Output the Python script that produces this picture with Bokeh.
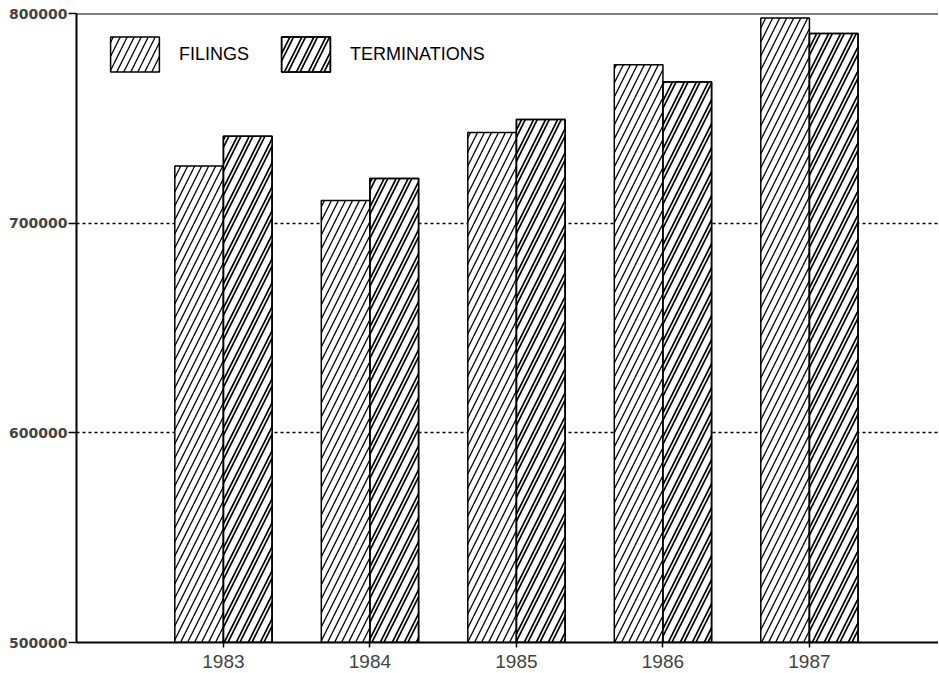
from bokeh.plotting import figure
from bokeh.models import (ColumnDataSource, Range1d, FixedTicker, Legend, LegendItem,
                          Span, NumeralTickFormatter)
from bokeh.embed import file_html
from bokeh.resources import INLINE

# ---- data ----
years = [1983, 1984, 1985, 1986, 1987]
year_labels = ["1983", "1984", "1985", "1986", "1987"]
filings = [727300, 710800, 743300, 775600, 797800]
terminations = [741500, 721300, 749500, 767300, 790500]
y_ticks = [500000, 600000, 700000, 800000]
grid_ticks = [600000, 700000]
series_names = ["FILINGS", "TERMINATIONS"]
BASE = 500000
TOP = 800000

BAR_W = 0.332
src = ColumnDataSource(dict(
    x_f=[y - BAR_W / 2 for y in years],
    x_t=[y + BAR_W / 2 for y in years],
    filings=filings,
    terminations=terminations,
))

p = figure(frame_width=862, frame_height=629,
           x_range=Range1d(1981.997, 1987.881), y_range=Range1d(BASE, TOP),
           output_backend="svg", toolbar_location=None,
           min_border_left=76, min_border_top=13, min_border_right=0,
           min_border_bottom=0)
p.outline_line_color = None
p.background_fill_color = "white"

r_f = p.vbar(x="x_f", top="filings", bottom=BASE, width=BAR_W, source=src,
             fill_color="white", line_color="black", line_width=1.5,
             hatch_pattern="/", hatch_scale=14, hatch_weight=1.3, hatch_color="black")
r_t = p.vbar(x="x_t", top="terminations", bottom=BASE, width=BAR_W, source=src,
             fill_color="white", line_color="black", line_width=1.5,
             hatch_pattern="/", hatch_scale=24, hatch_weight=5, hatch_color="black")
r_t2 = p.vbar(x="x_t", top="terminations", bottom=BASE, width=BAR_W, source=src,
              fill_alpha=0, line_color="black", line_width=1.5,
              hatch_pattern="/", hatch_scale=24, hatch_weight=1.6, hatch_color="white")

# top frame line
p.add_layout(Span(location=TOP, dimension="width", line_color="black", line_width=2))

# axes
p.yaxis.ticker = FixedTicker(ticks=y_ticks)
p.yaxis.formatter = NumeralTickFormatter(format="0")
p.yaxis.major_label_text_font = "DejaVu Sans"
p.yaxis.major_label_text_font_style = "bold"
p.yaxis.major_label_text_font_size = "14px"
p.yaxis.major_tick_out = 8
p.yaxis.major_tick_in = 0
p.yaxis.minor_tick_line_color = None
p.yaxis.major_label_standoff = 1
p.yaxis.axis_line_width = 2
p.yaxis.major_tick_line_width = 1.5

p.xaxis.ticker = FixedTicker(ticks=years)
p.xaxis.major_label_overrides = {y: l for y, l in zip(years, year_labels)}
p.xaxis.major_label_text_font = "Liberation Sans"
p.xaxis.major_label_text_font_size = "19px"
p.xaxis.major_tick_out = 5
p.xaxis.major_tick_in = 3
p.xaxis.minor_tick_line_color = None
p.xaxis.major_label_standoff = 7
p.xaxis.axis_line_width = 2
p.xaxis.major_tick_line_width = 1.5

p.xgrid.grid_line_color = None
p.ygrid.ticker = FixedTicker(ticks=grid_ticks)
p.ygrid.grid_line_color = "black"
p.ygrid.grid_line_dash = "3 3"
p.ygrid.grid_line_width = 1.5

legend = Legend(items=[
    LegendItem(label=series_names[0], renderers=[r_f]),
    LegendItem(label=series_names[1], renderers=[r_t, r_t2]),
], location=(28, 566), orientation="horizontal",
   glyph_width=61, glyph_height=44, label_standoff=14, spacing=26,
   padding=0, margin=0, border_line_alpha=0, background_fill_alpha=0,
   label_text_font="Liberation Sans", label_text_font_size="18px",
   label_text_color="black")
p.add_layout(legend)

open("out.html", "w").write(file_html(p, INLINE))
